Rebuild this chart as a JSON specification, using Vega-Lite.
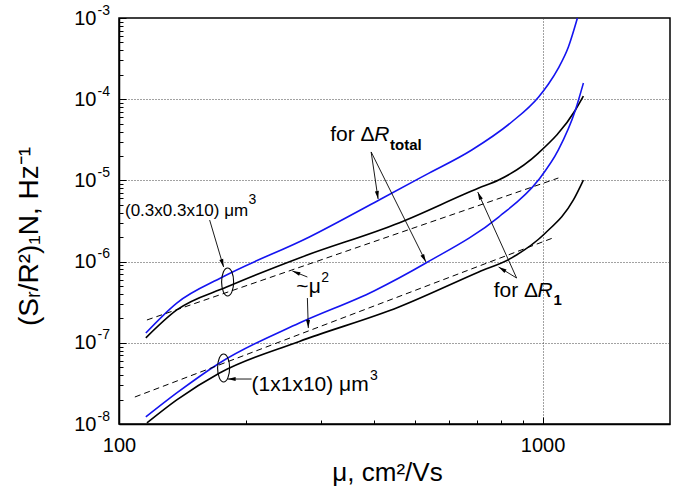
{
  "$schema": "https://vega.github.io/schema/vega-lite/v6.json",
  "width": 551,
  "height": 406,
  "autosize": {"type": "none"},
  "padding": {"left": 119, "top": 18, "right": 5, "bottom": 71},
  "background": "white",
  "config": {
    "view": {"stroke": "black", "strokeWidth": 1.5},
    "font": "Liberation Sans",
    "axis": {"labelFont": "Liberation Sans", "titleFont": "Liberation Sans", "labelColor": "black", "titleColor": "black", "titleFontWeight": "normal", "tickColor": "black", "domainColor": "black", "tickOpacity": 1}
  },
  "datasets": {
    "curves": [
      {"series": "A_total", "x": 115.7, "y": 1.32e-7},
      {"series": "A_total", "x": 136.9, "y": 3.09e-7},
      {"series": "A_total", "x": 175.6, "y": 6.46e-7},
      {"series": "A_total", "x": 281.5, "y": 2.01e-6},
      {"series": "A_total", "x": 411.3, "y": 5.74e-6},
      {"series": "A_total", "x": 530, "y": 1.17e-5},
      {"series": "A_total", "x": 680.7, "y": 2.37e-5},
      {"series": "A_total", "x": 845.6, "y": 5.24e-5},
      {"series": "A_total", "x": 978, "y": 1.06e-4},
      {"series": "A_total", "x": 1033, "y": 1.54e-4},
      {"series": "A_total", "x": 1090, "y": 2.42e-4},
      {"series": "A_total", "x": 1151, "y": 4.4e-4},
      {"series": "A_total", "x": 1209, "y": 1.0e-3},
      {"series": "A_R1", "x": 115.7, "y": 1.15e-7},
      {"series": "A_R1", "x": 136.9, "y": 2.54e-7},
      {"series": "A_R1", "x": 179.5, "y": 4.86e-7},
      {"series": "A_R1", "x": 266.6, "y": 1.11e-6},
      {"series": "A_R1", "x": 458, "y": 2.99e-6},
      {"series": "A_R1", "x": 707, "y": 8.05e-6},
      {"series": "A_R1", "x": 787.8, "y": 1.01e-5},
      {"series": "A_R1", "x": 978, "y": 2.17e-5},
      {"series": "A_R1", "x": 1196, "y": 7.36e-5},
      {"series": "A_R1", "x": 1249, "y": 1.09e-4},
      {"series": "B_total", "x": 115.7, "y": 1.22e-8},
      {"series": "B_total", "x": 136.9, "y": 2.41e-8},
      {"series": "B_total", "x": 172.8, "y": 5.64e-8},
      {"series": "B_total", "x": 266.6, "y": 1.75e-7},
      {"series": "B_total", "x": 400, "y": 4.35e-7},
      {"series": "B_total", "x": 530.5, "y": 9.6e-7},
      {"series": "B_total", "x": 787.8, "y": 3.54e-6},
      {"series": "B_total", "x": 978, "y": 1.01e-5},
      {"series": "B_total", "x": 1090, "y": 2.37e-5},
      {"series": "B_total", "x": 1196, "y": 7.36e-5},
      {"series": "B_total", "x": 1249, "y": 1.58e-4},
      {"series": "B_R1", "x": 116.4, "y": 1.03e-8},
      {"series": "B_R1", "x": 136.9, "y": 1.98e-8},
      {"series": "B_R1", "x": 172.8, "y": 4.25e-8},
      {"series": "B_R1", "x": 266.6, "y": 1.04e-7},
      {"series": "B_R1", "x": 458, "y": 2.76e-7},
      {"series": "B_R1", "x": 707, "y": 7.45e-7},
      {"series": "B_R1", "x": 845.6, "y": 1.11e-6},
      {"series": "B_R1", "x": 1016, "y": 2.25e-6},
      {"series": "B_R1", "x": 1183, "y": 5.74e-6},
      {"series": "B_R1", "x": 1249, "y": 1.01e-5}
    ],
    "dashed": [
      {"series": "A", "x": 116.4, "y": 1.91e-7},
      {"series": "A", "x": 1090, "y": 1.07e-5},
      {"series": "B", "x": 109, "y": 2.15e-8},
      {"series": "B", "x": 1073, "y": 2.01e-6}
    ],
    "arrows": [
      {"x": 163.7, "y": 3.25e-6, "x2": 176.6, "y2": 8.57e-7},
      {"x": 205.6, "y": 3.58e-8, "x2": 180.5, "y2": 3.58e-8},
      {"x": 278.5, "y": 6.46e-7, "x2": 256.7, "y2": 7.66e-7},
      {"x": 278.5, "y": 3.56e-7, "x2": 279.9, "y2": 1.52e-7},
      {"x": 393.9, "y": 2.24e-5, "x2": 409.1, "y2": 5.9e-6},
      {"x": 393.9, "y": 2.24e-5, "x2": 530.5, "y2": 9.9e-7},
      {"x": 868.6, "y": 6.28e-7, "x2": 703.2, "y2": 7.2e-6},
      {"x": 868.6, "y": 6.28e-7, "x2": 787.8, "y2": 8.57e-7}
    ]
  },
  "encoding": {
    "x": {"field": "x", "type": "quantitative", "scale": {"type": "log", "domain": [100, 2000]}, "axis": null},
    "y": {"field": "y", "type": "quantitative", "scale": {"type": "log", "domain": [1e-8, 1e-3]}, "axis": null}
  },
  "resolve": {"axis": {"x": "independent", "y": "independent"}},
  "layer": [
    {
      "data": {"name": "curves"},
      "mark": {"type": "line", "strokeWidth": 1.6, "interpolate": "monotone", "clip": true},
      "encoding": {
        "x": {"field": "x", "type": "quantitative", "scale": {"type": "log", "domain": [100, 2000]},
          "axis": {"orient": "bottom", "values": [100, 1000],
            "ticks": false, "tickSize": 0,
            "labelExpr": "'' + datum.value",
            "labelFontSize": 20, "labelPadding": 11, "labelFlush": false, "labelOverlap": false,
            "grid": true, "gridOpacity": {"condition": {"test": "datum.value == 1000", "value": 1}, "value": 0},
            "gridDash": [1, 2], "gridColor": "#444", "gridWidth": 1,
            "domainWidth": 1.5,
            "title": "μ, cm²/Vs", "titleFontSize": 26, "titlePadding": 4, "titleX": 268}},
        "y": {"field": "y", "type": "quantitative", "scale": {"type": "log", "domain": [1e-8, 1e-3]},
          "axis": {"orient": "left",
            "values": [1e-8, 1e-7, 1e-6, 1e-5, 1e-4, 1e-3],
            "ticks": false, "tickSize": 0,
            "labelExpr": "'10'",
            "labelFontSize": 20, "labelPadding": 23, "labelAlign": "right", "labelBaseline": "middle", "labelOverlap": false,
            "grid": true, "gridOpacity": {"condition": {"test": "datum.value > 5e-8 && datum.value < 5e-4", "value": 1}, "value": 0},
            "gridDash": [1, 2], "gridColor": "#444", "gridWidth": 1,
            "domainWidth": 1.5,
            "title": "(Sᵣ/R²)₁N, Hz⁻¹", "titleFontSize": 28, "titlePadding": 30, "titleY": 218}},
        "color": {"field": "series", "type": "nominal", "legend": null,
          "scale": {"domain": ["A_total", "A_R1", "B_total", "B_R1"], "range": ["#1414f0", "#000000", "#1414f0", "#000000"]}}
      }
    },
    {
      "data": {"name": "dashed"},
      "mark": {"type": "line", "strokeWidth": 1, "strokeDash": [6, 4], "color": "black"},
      "encoding": {
        "x": {"field": "x", "type": "quantitative", "scale": {"type": "log", "domain": [100, 2000]},
          "axis": {"orient": "bottom", "values": [200, 300, 400, 500, 600, 700, 800, 900],
            "ticks": true, "tickSize": -4, "tickWidth": 1, "labels": false, "domain": false, "grid": false, "title": null}},
        "y": {"field": "y", "type": "quantitative", "scale": {"type": "log", "domain": [1e-8, 1e-3]},
          "axis": {"orient": "left", "values": [1e-8, 1e-7, 1e-6, 1e-5, 1e-4, 1e-3],
            "ticks": false, "tickSize": 0, "domain": false, "grid": false,
            "labelExpr": "'' + round(log(datum.value) / LN10)",
            "labelFontSize": 14, "labelAlign": "left", "labelBaseline": "middle", "labelPadding": 22, "labelOffset": -8, "labelOverlap": false,
            "title": null}},
        "detail": {"field": "series"}
      }
    },
    {
      "data": {"name": "arrows"},
      "mark": {"type": "rule", "color": "black", "strokeWidth": 0.9},
      "encoding": {
        "x": {"field": "x", "type": "quantitative", "scale": {"type": "log", "domain": [100, 2000]},
          "axis": {"orient": "bottom", "values": [100, 1000],
            "ticks": true, "tickSize": -7, "tickWidth": 1, "labels": false, "domain": false, "grid": false, "title": null}},
        "y": {"field": "y", "type": "quantitative", "scale": {"type": "log", "domain": [1e-8, 1e-3]},
          "axis": {"orient": "left",
            "values": [2e-8, 3e-8, 4e-8, 5e-8, 6e-8, 7e-8, 8e-8, 9e-8, 2e-7, 3e-7, 4e-7, 5e-7, 6e-7, 7e-7, 8e-7, 9e-7, 2e-6, 3e-6, 4e-6, 5e-6, 6e-6, 7e-6, 8e-6, 9e-6, 2e-5, 3e-5, 4e-5, 5e-5, 6e-5, 7e-5, 8e-5, 9e-5, 2e-4, 3e-4, 4e-4, 5e-4, 6e-4, 7e-4, 8e-4, 9e-4],
            "ticks": true, "tickSize": -4, "tickWidth": 1, "labels": false, "domain": false, "grid": false, "title": null}},
        "x2": {"field": "x2"}, "y2": {"field": "y2"}
      }
    },
    {"data": {"values": [{"x": 176.6, "y": 8.57e-7}]}, "mark": {"type": "point", "shape": "M0,0L0.4,1.6L-0.4,1.6Z", "size": 100, "filled": true, "color": "black", "opacity": 1, "angle": 163}, "encoding": {}},
    {"data": {"values": [{"x": 180.5, "y": 3.58e-8}]}, "mark": {"type": "point", "shape": "M0,0L0.4,1.6L-0.4,1.6Z", "size": 100, "filled": true, "color": "black", "opacity": 1, "angle": 270}, "encoding": {}},
    {"data": {"values": [{"x": 256.7, "y": 7.66e-7}]}, "mark": {"type": "point", "shape": "M0,0L0.4,1.6L-0.4,1.6Z", "size": 100, "filled": true, "color": "black", "opacity": 1, "angle": 292}, "encoding": {}},
    {"data": {"values": [{"x": 279.9, "y": 1.52e-7}]}, "mark": {"type": "point", "shape": "M0,0L0.4,1.6L-0.4,1.6Z", "size": 100, "filled": true, "color": "black", "opacity": 1, "angle": 178}, "encoding": {}},
    {"data": {"values": [{"x": 409.1, "y": 5.9e-6}]}, "mark": {"type": "point", "shape": "M0,0L0.4,1.6L-0.4,1.6Z", "size": 100, "filled": true, "color": "black", "opacity": 1, "angle": 171}, "encoding": {}},
    {"data": {"values": [{"x": 530.5, "y": 9.9e-7}]}, "mark": {"type": "point", "shape": "M0,0L0.4,1.6L-0.4,1.6Z", "size": 100, "filled": true, "color": "black", "opacity": 1, "angle": 153}, "encoding": {}},
    {"data": {"values": [{"x": 703.2, "y": 7.2e-6}]}, "mark": {"type": "point", "shape": "M0,0L0.4,1.6L-0.4,1.6Z", "size": 100, "filled": true, "color": "black", "opacity": 1, "angle": 336}, "encoding": {}},
    {"data": {"values": [{"x": 787.8, "y": 8.57e-7}]}, "mark": {"type": "point", "shape": "M0,0L0.4,1.6L-0.4,1.6Z", "size": 100, "filled": true, "color": "black", "opacity": 1, "angle": 301}, "encoding": {}},
    {
      "data": {"values": [{"x": 180.5, "y": 5.61e-7}, {"x": 176.6, "y": 4.9e-8}]},
      "mark": {"type": "point", "shape": "M0,-1A0.43,1,0,1,1,0,1A0.43,1,0,1,1,0,-1Z", "size": 784, "filled": false, "color": "black", "strokeWidth": 1.1, "opacity": 1},
      "encoding": {
        "y": {"field": "y", "type": "quantitative", "scale": {"type": "log", "domain": [1e-8, 1e-3]},
          "axis": {"orient": "left", "values": [1e-8, 1e-7, 1e-6, 1e-5, 1e-4, 1e-3],
            "ticks": true, "tickSize": -7, "tickWidth": 1, "labels": false, "domain": false, "grid": false, "title": null}}
      }
    },
    {
      "data": {"values": [
        {"x": 103.3, "y": 3.65e-6, "t": "(0.3x0.3x10) μm"}
      ]},
      "mark": {"type": "text", "align": "left", "baseline": "alphabetic", "fontSize": 17, "font": "Liberation Sans", "color": "black"},
      "encoding": {"text": {"field": "t"}}
    },
    {
      "data": {"values": [
        {"x": 205.6, "y": 2.55e-8, "t": "(1x1x10) μm"},
        {"x": 315.4, "y": 3.06e-5, "t": "for Δ"},
        {"x": 766.8, "y": 3.66e-7, "t": "for Δ"},
        {"x": 262.3, "y": 4.1e-7, "t": "~μ"}
      ]},
      "mark": {"type": "text", "align": "left", "baseline": "alphabetic", "fontSize": 21, "font": "Liberation Sans", "color": "black"},
      "encoding": {"text": {"field": "t"}}
    },
    {
      "data": {"values": [
        {"x": 400.4, "y": 3.06e-5, "t": "R"},
        {"x": 972.8, "y": 3.66e-7, "t": "R"}
      ]},
      "mark": {"type": "text", "align": "left", "baseline": "alphabetic", "fontSize": 21, "fontStyle": "italic", "font": "Liberation Sans", "color": "black"},
      "encoding": {"text": {"field": "t"}}
    },
    {
      "data": {"values": [
        {"x": 202.2, "y": 5.12e-6, "t": "3"},
        {"x": 391.7, "y": 3.48e-8, "t": "3"},
        {"x": 300.4, "y": 5.61e-7, "t": "2"}
      ]},
      "mark": {"type": "text", "align": "left", "baseline": "alphabetic", "fontSize": 14, "font": "Liberation Sans", "color": "black"},
      "encoding": {"text": {"field": "t"}}
    },
    {
      "data": {"values": [
        {"x": 436.5, "y": 2.37e-5, "t": "total"},
        {"x": 1061, "y": 2.92e-7, "t": "1"}
      ]},
      "mark": {"type": "text", "align": "left", "baseline": "alphabetic", "fontSize": 15, "fontWeight": "bold", "font": "Liberation Sans", "color": "black"},
      "encoding": {"text": {"field": "t"}}
    }
  ]
}
